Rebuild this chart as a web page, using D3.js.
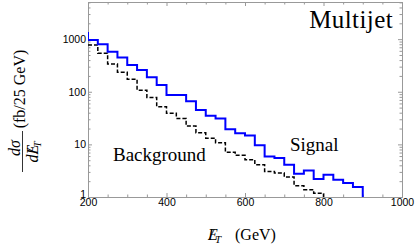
<!DOCTYPE html>
<html>
<head>
<meta charset="utf-8">
<script src="https://cdn.jsdelivr.net/npm/d3@7"></script>
<style>
  body { margin: 0; background: #fff; }
  .tick text { font-family: "Liberation Sans", Arial, sans-serif; font-size: 10.5px; fill: #000; }
  .serif { font-family: "Liberation Serif", "Times New Roman", serif; }
</style>
</head>
<body>
<script>
(function () {

	// bin lower edges (GeV) and heights (fb / 25 GeV)
	var signalEdges = [175, 200, 225, 250, 275, 300, 325, 350, 375, 400, 425, 450, 475, 500, 525,
			550, 575, 600, 625, 650, 675, 700, 725, 750, 775, 800, 825, 850, 875],
		signalEnd = 900,
		signalValues = [1310, 966, 800, 579, 446, 324, 260, 189, 135, 87, 87, 66, 45, 35, 31,
			19.4, 16.2, 14.7, 9.6, 5.9, 5.5, 4.1, 2.77, 3.2, 2.2, 2.65, 2.13, 1.84, 1.55];

	var bgEdges = [200, 225, 250, 275, 300, 325, 350, 375, 400, 425, 450, 475, 500, 525,
			550, 575, 600, 625, 650, 675, 700, 725, 750, 775],
		bgEnd = 800,
		bgValues = [776, 540, 338, 235, 172, 107, 78, 52, 39, 31, 22.3, 16.6, 13.1, 10.7,
			7.1, 6.2, 5.1, 4.1, 3.06, 2.85, 2.4, 1.64, 1.38, 1.18];

	var xMajor = [200, 400, 600, 800, 1000],
		xMinor = [250, 300, 350, 450, 500, 550, 650, 700, 750, 850, 900, 950],
		yMajor = [1, 10, 100, 1000],
		yMinor = [2, 3, 4, 5, 6, 7, 8, 9, 20, 30, 40, 50, 60, 70, 80, 90,
			200, 300, 400, 500, 600, 700, 800, 900, 2000, 3000, 4000, 5000];

	var w = 415,
		h = 246,
		left = 88, right = 402, top = 2, bottom = 197;

	var svg = d3.select("body")
		.append("svg")
		.attr("width", w)
		.attr("height", h);

	var x = d3.scaleLinear().domain([200, 1000]).range([left, right]);
	var y = d3.scaleLog().domain([1, 5080]).range([bottom, top]);

	svg.append("defs").append("clipPath").attr("id", "plot")
		.append("rect")
		.attr("x", left).attr("y", top)
		.attr("width", right - left).attr("height", bottom - top);

	// frame axes, ticks pointing inward
	function frame(g) {
		g.selectAll(".domain").attr("stroke", "#999");
		g.selectAll(".tick line").attr("stroke", "#999");
	}

	svg.append("g").attr("transform", "translate(0," + bottom + ")")
		.call(d3.axisBottom(x).tickValues(xMajor).tickSize(-4).tickSizeOuter(0).tickPadding(2)
			.tickFormat(d3.format("d")))
		.call(frame);
	svg.append("g").attr("transform", "translate(0," + bottom + ")")
		.call(d3.axisBottom(x).tickValues(xMinor).tickSize(-2.5).tickSizeOuter(0).tickFormat(""))
		.call(frame);
	svg.append("g").attr("transform", "translate(0," + top + ")")
		.call(d3.axisTop(x).tickValues(xMajor).tickSize(-4).tickSizeOuter(0).tickFormat(""))
		.call(frame);
	svg.append("g").attr("transform", "translate(0," + top + ")")
		.call(d3.axisTop(x).tickValues(xMinor).tickSize(-2.5).tickSizeOuter(0).tickFormat(""))
		.call(frame);

	var yAxis = svg.append("g").attr("transform", "translate(" + left + ",0)")
		.call(d3.axisLeft(y).tickValues(yMajor).tickSize(-4).tickSizeOuter(0).tickPadding(2)
			.tickFormat(d3.format("d")))
		.call(frame);
	// the "1" sits a little above its tick, clear of the "200"
	yAxis.selectAll(".tick text").filter(function (d) { return d === 1; }).attr("dy", "0.05em");
	svg.append("g").attr("transform", "translate(" + left + ",0)")
		.call(d3.axisLeft(y).tickValues(yMinor).tickSize(-2.5).tickSizeOuter(0).tickFormat(""))
		.call(frame);
	svg.append("g").attr("transform", "translate(" + right + ",0)")
		.call(d3.axisRight(y).tickValues(yMajor).tickSize(-4).tickSizeOuter(0).tickFormat(""))
		.call(frame);
	svg.append("g").attr("transform", "translate(" + right + ",0)")
		.call(d3.axisRight(y).tickValues(yMinor).tickSize(-2.5).tickSizeOuter(0).tickFormat(""))
		.call(frame);

	// step histograms
	function steps(edges, values, end) {
		var pts = edges.map(function (e, i) { return [e, values[i]]; });
		pts.push([end, values[values.length - 1]]);
		pts.push([end, 1]);
		return pts;
	}

	var line = d3.line()
		.x(function (d) { return x(d[0]); })
		.y(function (d) { return y(d[1]); })
		.curve(d3.curveStepAfter);

	var plot = svg.append("g").attr("clip-path", "url(#plot)");

	plot.append("path")
		.attr("d", line(steps(bgEdges, bgValues, bgEnd)))
		.attr("fill", "none")
		.attr("stroke", "#000")
		.attr("stroke-width", 1.5)
		.attr("stroke-dasharray", "4,2");

	plot.append("path")
		.attr("d", line(steps(signalEdges, signalValues, signalEnd)))
		.attr("fill", "none")
		.attr("stroke", "#0000ff")
		.attr("stroke-width", 2);

	// labels inside plot
	svg.append("text").attr("class", "serif")
		.attr("x", 393).attr("y", 28)
		.attr("text-anchor", "end")
		.style("font-size", "25px")
		.style("letter-spacing", "0.4px")
		.text("Multijet");

	svg.append("text").attr("class", "serif")
		.attr("x", 290).attr("y", 151)
		.style("font-size", "19px")
		.text("Signal");

	svg.append("text").attr("class", "serif")
		.attr("x", 113).attr("y", 161)
		.style("font-size", "19px")
		.text("Background");

	// x axis title
	var xt = svg.append("text").attr("class", "serif")
		.attr("x", 208).attr("y", 240)
		.style("font-size", "16px");
	xt.append("tspan").style("font-style", "italic").text("E");
	xt.append("tspan").style("font-style", "italic").attr("dx", "-0.55em").text("/");
	xt.append("tspan").style("font-style", "italic").style("font-size", "11px")
		.attr("dx", "0.15em").attr("dy", 3).text("T");
	xt.append("tspan").attr("x", 235).attr("dy", -3).text("(GeV)");

	// y axis title, rotated
	var yt = svg.append("g").attr("transform", "rotate(-90)");
	yt.append("text").attr("class", "serif")
		.attr("x", -148).attr("y", 19.5)
		.attr("text-anchor", "middle")
		.style("font-size", "16px").style("font-style", "italic")
		.text("dσ");
	yt.append("line")
		.attr("x1", -172).attr("x2", -131)
		.attr("y1", 22.5).attr("y2", 22.5)
		.attr("stroke", "#000").attr("stroke-width", 0.8);
	var den = yt.append("text").attr("class", "serif")
		.attr("x", -152).attr("y", 37.5)
		.attr("text-anchor", "middle")
		.style("font-size", "16px");
	den.append("tspan").style("font-style", "italic").text("dE");
	den.append("tspan").style("font-style", "italic").attr("dx", "-0.55em").text("/");
	den.append("tspan").style("font-style", "italic").style("font-size", "11px")
		.attr("dx", "0.15em").attr("dy", 3).text("T");
	yt.append("text").attr("class", "serif")
		.attr("x", -89).attr("y", 25)
		.attr("text-anchor", "middle")
		.style("font-size", "16px")
		.text("(fb/25 GeV)");

}());
</script>
</body>
</html>
